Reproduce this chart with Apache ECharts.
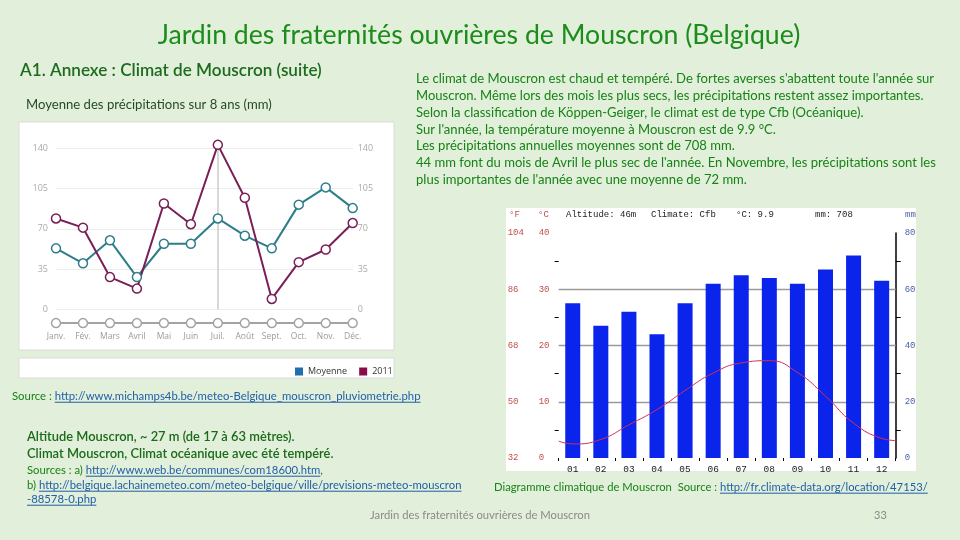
<!DOCTYPE html>
<html><head><meta charset="utf-8">
<script src="https://cdn.jsdelivr.net/npm/echarts@6/dist/echarts.min.js"></script>
<style>html,body{margin:0;padding:0;background:#e2efda}#c{width:960px;height:540px}</style>
</head><body><div id="c"></div>
<script>
// ---- Left chart: precipitation (mm) ----
const months = ['Janv.','Fév.','Mars','Avril','Mai','Juin','Juil.','Août','Sept.','Oct.','Nov.','Déc.'];
const moyenne = [53,40,60,28,57,57,79,64,53,91,106,88];
const pluie2011 = [79,71,28,18,92,74,143,97,9,41,52,75];
const axisRow = [-12,-12,-12,-12,-12,-12,-12,-12,-12,-12,-12,-12];

// ---- Right chart: climate diagram ----
const monthNums = ['01','02','03','04','05','06','07','08','09','10','11','12'];
const precipMm = [55,47,52,44,55,62,65,64,62,67,72,63];
const tempMonthPos = [0.5,1,2,3,4,5,6,7,8,9,10,11,12,12.5];
const tempC = [3.0,2.5,3.3,5.9,8.6,12.0,15.1,16.9,17.3,15.2,11.0,6.2,3.5,3.1];
const tempGridLines = [10,20,30];
const fLabels = ['32','50','68','86','104'];

const FONT = 'Lato';
const MONO = '"Liberation Mono", "DejaVu Sans Mono", monospace';
const GREEN = '#178317';
const LINK = '#1f5fa8';

const ctx = document.createElement('canvas').getContext('2d');
function tw(text, size, weight){ ctx.font = weight + ' ' + size + 'px ' + FONT; return ctx.measureText(text).width; }
function fit(text, target, weight){ return 100 * target / tw(text, 100, weight); }

const graphics = [];
graphics.push({type:'rect', z:-10, shape:{x:19,y:122,width:375,height:228}, style:{fill:'#fff', stroke:'#dcdcdc', lineWidth:1}});
graphics.push({type:'rect', z:-10, shape:{x:19,y:358,width:375,height:20}, style:{fill:'#fff', stroke:'#dcdcdc', lineWidth:1}});
graphics.push({type:'rect', z:-10, shape:{x:506,y:208,width:410,height:263}, style:{fill:'#fff'}});

function addLine(x, y, size, weight, segs, center){
  const full = segs.map(s => s[0]).join('');
  let cx = center ? x - tw(full, size, weight) / 2 : x;
  segs.forEach(s => {
    const w = tw(s[0], size, weight);
    const color = s[1] === 'l' ? LINK : s[1];
    graphics.push({type:'text', x:cx, y:y, z:10, style:{text:s[0], font: weight + ' ' + size + 'px ' + FONT, fill: color, textVerticalAlign:'middle'}});
    if (s[1] === 'l') {
      graphics.push({type:'line', z:10, shape:{x1:cx, y1:y + size*0.55, x2:cx + w, y2:y + size*0.55}, style:{stroke:LINK, lineWidth:1}});
    }
    cx += w;
  });
}

const title = 'Jardin des fraternités ouvrières de Mouscron (Belgique)';
addLine(479, 35, fit(title, 643, 'normal'), 'normal', [[title, '#1c8c1c']], true);
const sub = 'A1. Annexe : Climat de Mouscron (suite)';
addLine(20, 70, fit(sub, 302, '600'), '600', [[sub, '#1d6b1d']]);
const sub2 = 'Moyenne des précipitations sur 8 ans (mm)';
addLine(26, 105, fit(sub2, 246, 'normal'), 'normal', [[sub2, '#264a26']]);

const para = [
  "Le climat de Mouscron est chaud et tempéré. De fortes averses s'abattent toute l'année sur",
  "Mouscron. Même lors des mois les plus secs, les précipitations restent assez importantes.",
  "Selon la classification de Köppen-Geiger, le climat est de type Cfb (Océanique).",
  "Sur l'année, la température moyenne à Mouscron est de 9.9 °C.",
  "Les précipitations annuelles moyennes sont de 708 mm.",
  "44 mm font du mois de Avril le plus sec de l'année. En Novembre, les précipitations sont les",
  "plus importantes de l'année avec une moyenne de 72 mm."
];
const pSize = fit(para[0], 519, 'normal');
para.forEach((t, i) => addLine(416, 79 + i * 16.8, pSize, 'normal', [[t, GREEN]]));

const src1 = [['Source : ', GREEN], ['http://www.michamps4b.be/meteo-Belgique_mouscron_pluviometrie.php', 'l']];
addLine(12, 396, fit(src1.map(s=>s[0]).join(''), 409, 'normal'), 'normal', src1);
const alt1 = 'Altitude Mouscron, ~ 27 m (de 17 à 63 mètres).';
const aSize = fit(alt1, 268, '600');
addLine(27, 437, aSize, '600', [[alt1, '#1a6a1a']]);
addLine(27, 454, aSize, '600', [['Climat Mouscron, Climat océanique avec été tempéré.', '#1a6a1a']]);
const sA = [['Sources : a) ', GREEN], ['http://www.web.be/communes/com18600.htm', 'l'], [',', GREEN]];
const sSize = fit(sA.map(s=>s[0]).join(''), 296, 'normal');
addLine(27, 470, sSize, 'normal', sA);
addLine(27, 485, sSize, 'normal', [['b) ', GREEN], ['http://belgique.lachainemeteo.com/meteo-belgique/ville/previsions-meteo-mouscron', 'l']]);
addLine(27, 499, sSize, 'normal', [['-88578-0.php', 'l']]);

const cap = [['Diagramme climatique de Mouscron  Source : ', GREEN], ['http://fr.climate-data.org/location/47153/', 'l']];
addLine(494, 487, fit(cap.map(s=>s[0]).join(''), 434, 'normal'), 'normal', cap);

const foot = 'Jardin des fraternités ouvrières de Mouscron';
addLine(480, 515, fit(foot, 220, 'normal'), 'normal', [[foot, '#8a8a8a']], true);
addLine(874, 515, 11, 'normal', [['33', '#8a8a8a']]);

function mono(x, y, text, color){ graphics.push({type:'text', x:x, y:y, z:10, style:{text:text, font:'9px ' + MONO, fill:color, textVerticalAlign:'middle'}}); }
mono(509, 215, '°F', '#c0504d');
mono(538, 215, '°C', '#c0504d');
mono(566, 215, 'Altitude: 46m', '#222');
mono(651, 215, 'Climate: Cfb', '#222');
mono(736, 215, '°C: 9.9', '#222');
mono(815, 215, 'mm: 708', '#222');
mono(905, 215, 'mm', '#4a62a8');

const lineSeries = (name, data, color) => ({
  name, type:'line', xAxisIndex:0, yAxisIndex:0, data, z:3, clip:false,
  symbol:'circle', symbolSize:9,
  lineStyle:{color, width:2},
  itemStyle:{color:'#fff', borderColor:color, borderWidth:1.5}
});

const option = {
  animation:false,
  backgroundColor:'#e2efda',
  graphic: graphics,
  legend: {
    left:290, top:362, itemWidth:8, itemHeight:8, itemGap:12,
    textStyle:{fontSize:9, color:'#333', fontFamily:'Open Sans'},
    data:[
      {name:'Moyenne', icon:'rect', itemStyle:{color:'#1f6fae', borderWidth:0}},
      {name:'2011', icon:'rect', itemStyle:{color:'#8c0a4a', borderWidth:0}}
    ]
  },
  grid: [
    {left:56, right:607.3, top:148.3, bottom:230.7},
    {left:558.7, right:64.3, top:233, bottom:82}
  ],
  xAxis: [
    {type:'category', gridIndex:0, data:months, boundaryGap:false, offset:13.4,
     axisLine:{show:false}, axisTick:{show:false},
     axisLabel:{color:'#9a9a9a', fontSize:8.5, margin:9, fontFamily:'Open Sans'}},
    {type:'category', gridIndex:1, data:monthNums,
     axisLine:{show:false}, axisTick:{show:true, length:3, lineStyle:{color:'#000'}},
     axisLabel:{color:'#222', fontSize:9.5, margin:6, fontFamily:MONO}},
    {type:'value', gridIndex:1, min:0.5, max:12.5, show:false}
  ],
  yAxis: [
    {type:'value', gridIndex:0, min:0, max:140, interval:35, position:'left',
     axisLine:{show:false}, axisTick:{show:false},
     splitLine:{show:true, lineStyle:{color:'#ececec'}},
     axisLabel:{color:'#aaa', fontSize:9, margin:8, fontFamily:'Open Sans'}},
    {type:'value', gridIndex:0, min:0, max:140, interval:35, position:'right',
     axisLine:{show:false}, axisTick:{show:false}, splitLine:{show:false},
     axisLabel:{color:'#aaa', fontSize:9, margin:5, fontFamily:'Open Sans'}},
    {type:'value', gridIndex:1, min:0, max:40, interval:10, position:'left',
     axisLine:{show:false}, axisTick:{show:false},
     minorTick:{show:true, splitNumber:2, length:4, lineStyle:{color:'#000'}},
     splitLine:{show:false},
     axisLabel:{align:'left', margin:20, color:'#c0504d', fontSize:9, fontFamily:MONO}},
    {type:'value', gridIndex:1, min:0, max:40, interval:10, position:'left',
     axisLine:{show:false}, axisTick:{show:false}, splitLine:{show:false},
     axisLabel:{align:'left', margin:51, color:'#c0504d', fontSize:9, fontFamily:MONO,
       formatter: v => fLabels[Math.round(v/10)]}},
    {type:'value', gridIndex:1, min:0, max:80, interval:20, position:'right',
     axisLine:{show:true, lineStyle:{color:'#000', width:1.5}}, axisTick:{show:false},
     minorTick:{show:true, splitNumber:2, length:5, lineStyle:{color:'#000'}},
     splitLine:{show:false},
     axisLabel:{color:'#4a62a8', fontSize:9, margin:9, fontFamily:MONO}}
  ],
  series: [
    {name:'axe', type:'line', xAxisIndex:0, yAxisIndex:0, data:axisRow, z:2, clip:false,
     symbol:'circle', symbolSize:9, lineStyle:{color:'#a3a3a3', width:2},
     itemStyle:{color:'#fff', borderColor:'#a3a3a3', borderWidth:1.5},
     markLine:{silent:true, symbol:'none', z:1, label:{show:false},
       data:[{xAxis:'Juil.', lineStyle:{color:'#d8d8d8', width:2, type:'solid'}}]}},
    lineSeries('Moyenne', moyenne, '#2e7d8a'),
    lineSeries('2011', pluie2011, '#7a1f56'),
    {name:'Précipitations', type:'bar', xAxisIndex:1, yAxisIndex:4, data:precipMm, barWidth:15, z:3,
     itemStyle:{color:'#0a24ec'}},
    {name:'Température', type:'line', xAxisIndex:2, yAxisIndex:2, z:4,
     data: tempMonthPos.map((m, i) => [m, tempC[i]]),
     smooth:true, showSymbol:false, symbol:'none', lineStyle:{color:'#d0305a', width:1},
     markLine:{silent:true, symbol:'none', z:1, label:{show:false},
       lineStyle:{color:'#9a9a9a', width:1.3, type:'solid'},
       data: tempGridLines.map(v => ({yAxis:v}))}}
  ]
};
const chart = echarts.init(document.getElementById('c'));
chart.setOption(option);
</script></body></html>
